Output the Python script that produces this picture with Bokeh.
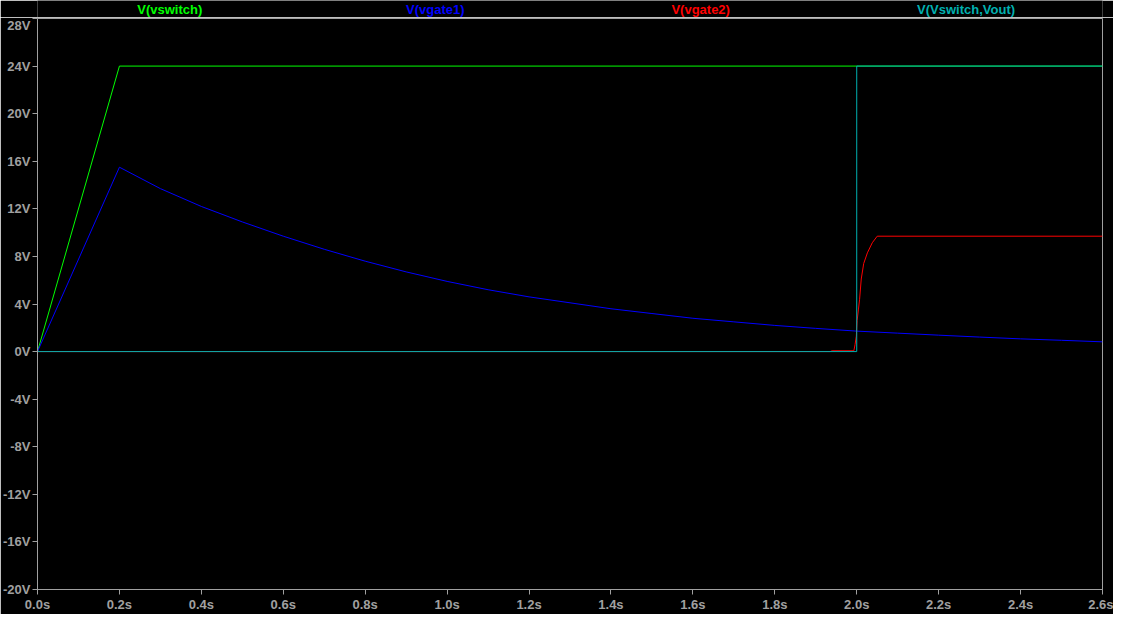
from bokeh.plotting import figure
from bokeh.models import FixedTicker, Range1d
from bokeh.layouts import column
from bokeh.core.properties import value
from bokeh.embed import file_html
from bokeh.resources import INLINE

# ---- data ----
t_vswitch = [0.0, 0.2, 2.6]
v_vswitch = [0.0, 24.0, 24.0]

t_vgate1 = [0.0, 0.2, 0.3, 0.4, 0.5, 0.6, 0.7, 0.8, 0.9, 1.0, 1.1, 1.2, 1.3,
            1.4, 1.5, 1.6, 1.7, 1.8, 1.9, 2.0, 2.1, 2.2, 2.3, 2.4, 2.5, 2.6]
v_vgate1 = [0.0, 15.5, 13.7, 12.2, 10.9, 9.7, 8.6, 7.6, 6.7, 5.9, 5.2, 4.6, 4.1,
            3.6, 3.2, 2.8, 2.5, 2.2, 1.95, 1.72, 1.55, 1.38, 1.22, 1.07, 0.95, 0.82]

t_vgate2 = [0.0, 1.935, 1.94, 1.993, 1.996, 1.999, 2.001, 2.004, 2.007, 2.011,
            2.017, 2.026, 2.038, 2.05, 2.6]
v_vgate2 = [0.0, 0.0, 0.07, 0.07, 0.6, 1.3, 2.6, 3.5, 4.4, 6.1,
            7.4, 8.3, 9.15, 9.7, 9.7]

t_vdiff = [0.0, 2.0, 2.0, 2.6]
v_vdiff = [0.0, 0.0, 24.0, 24.0]

series_names = ["V(vswitch)", "V(vgate1)", "V(vgate2)", "V(Vswitch,Vout)"]
series_colors = ["#00ff00", "#0000ff", "#ff0000", "#00b0b0"]
legend_t = [0.323, 0.971, 1.619, 2.267]

x_ticks = [0.0, 0.2, 0.4, 0.6, 0.8, 1.0, 1.2, 1.4, 1.6, 1.8, 2.0, 2.2, 2.4, 2.6]
x_labels = ["0.0s", "0.2s", "0.4s", "0.6s", "0.8s", "1.0s", "1.2s", "1.4s",
            "1.6s", "1.8s", "2.0s", "2.2s", "2.4s", "2.6s"]
y_ticks = [-20, -16, -12, -8, -4, 0, 4, 8, 12, 16, 20, 24, 28]
y_labels = ["-20V", "-16V", "-12V", "-8V", "-4V", "0V", "4V", "8V", "12V",
            "16V", "20V", "24V", "28V"]

GRAY = "#a0a0a0"
FONT = "Liberation Sans"
W = 1113
TOP_H = 17
MAIN_H = 614 - TOP_H
LEFT = 36
RIGHT = 11

# ---- legend strip (series names above the frame) ----
top = figure(width=W, height=TOP_H, output_backend="svg", toolbar_location=None,
             x_range=Range1d(0, 2.6), y_range=Range1d(0, 1),
             x_axis_type=None, y_axis_type=None,
             background_fill_color="black", border_fill_color="black",
             min_border_left=LEFT, min_border_right=RIGHT,
             min_border_top=0, min_border_bottom=0)
top.outline_line_color = None
top.grid.visible = False
top.text(x=legend_t, y=[0.45] * 4, text=series_names, text_color=series_colors,
         text_font=value(FONT), text_font_style="bold", text_font_size="13px",
         text_align="center", text_baseline="middle")

# ---- main plot ----
p = figure(width=W, height=MAIN_H, output_backend="svg", toolbar_location=None,
           x_range=Range1d(0, 2.6), y_range=Range1d(-20, 28),
           background_fill_color="black", border_fill_color="black",
           min_border_left=LEFT, min_border_right=RIGHT, min_border_top=1,
           min_border_bottom=22)
p.grid.visible = False
p.outline_line_color = GRAY
p.outline_line_width = 1

for ax in (p.xaxis[0], p.yaxis[0]):
    ax.axis_line_color = GRAY
    ax.major_tick_line_color = GRAY
    ax.major_tick_out = 5
    ax.major_tick_in = 0
    ax.minor_tick_line_color = None
    ax.major_label_text_color = GRAY
    ax.major_label_text_font = FONT
    ax.major_label_text_font_style = "bold"
    ax.major_label_text_font_size = "13px"
    ax.major_label_standoff = 2

p.xaxis[0].ticker = FixedTicker(ticks=x_ticks)
p.xaxis[0].major_label_overrides = {t: l for t, l in zip(x_ticks, x_labels)}
p.yaxis[0].ticker = FixedTicker(ticks=y_ticks)
p.yaxis[0].major_label_overrides = {t: l for t, l in zip(y_ticks, y_labels)}

p.line(t_vswitch, v_vswitch, line_color=series_colors[0], line_width=1)
p.line(t_vgate1, v_vgate1, line_color=series_colors[1], line_width=1)
p.line(t_vgate2, v_vgate2, line_color=series_colors[2], line_width=1)
p.line(t_vdiff, v_vdiff, line_color=series_colors[3], line_width=1)

layout = column(top, p, spacing=0)
open("out.html", "w").write(file_html(layout, INLINE))
